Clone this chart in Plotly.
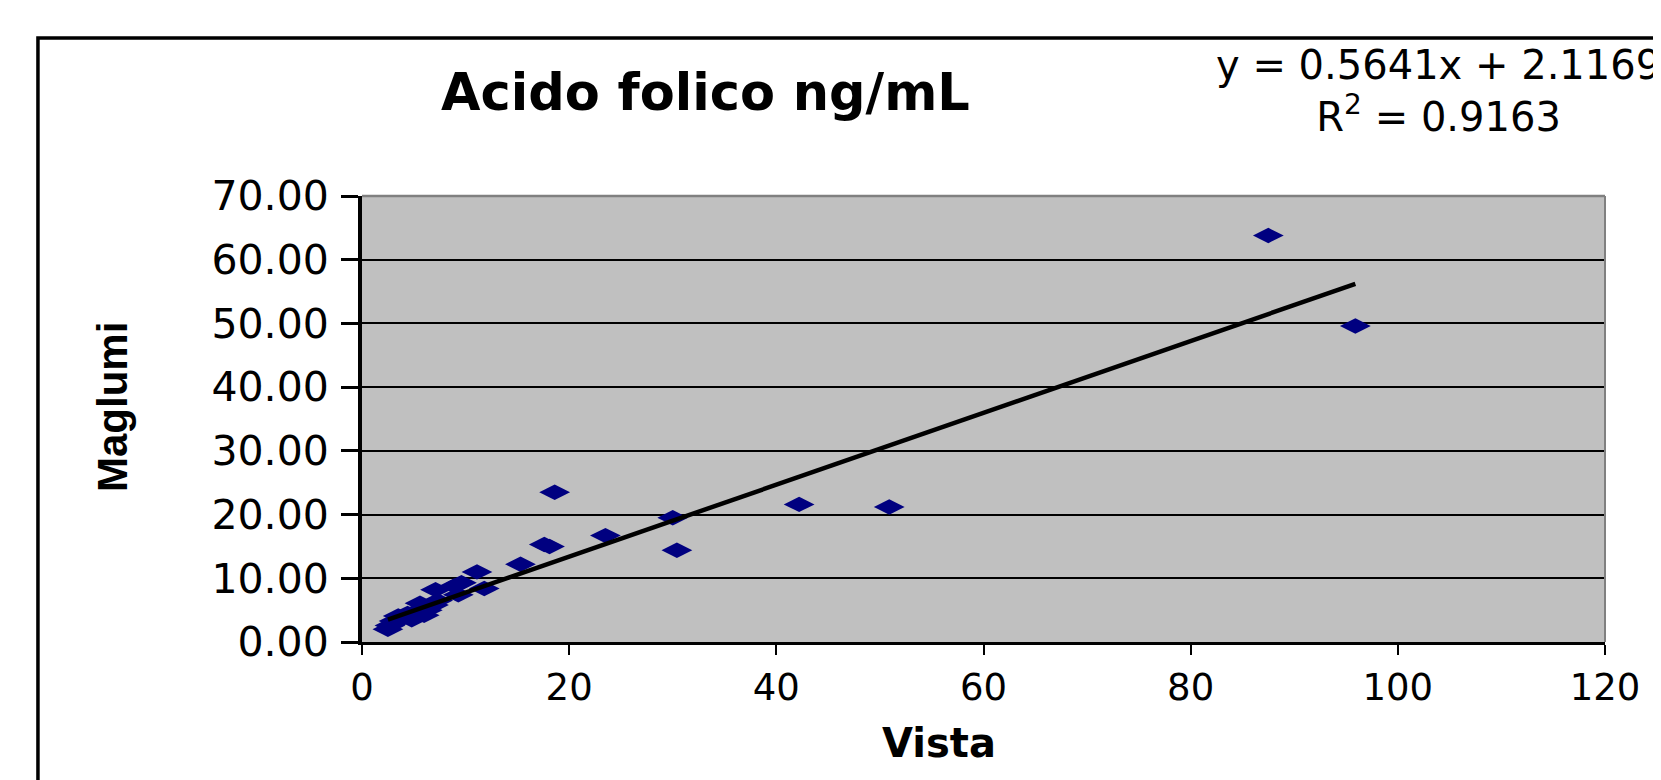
import plotly.graph_objects as go

# Data
vista = [2.5, 2.7, 3.1, 3.5, 3.9, 4.4, 4.8, 5.2, 5.6, 6.0, 6.3, 6.9, 7.1, 7.3,
         8.9, 9.3, 9.6, 11.1, 11.8, 15.3, 17.6, 18.1, 18.6, 23.5, 30.0, 30.4,
         42.2, 50.9, 87.5, 95.9]
maglumi = [2.0, 2.6, 3.3, 4.1, 3.7, 4.5, 3.5, 4.8, 6.1, 4.2, 5.0, 5.8, 8.2, 6.5,
           8.8, 7.4, 9.3, 11.0, 8.4, 12.2, 15.3, 15.0, 23.5, 16.7, 19.5, 14.4,
           21.6, 21.2, 63.8, 49.6]

slope = 0.5641
intercept = 2.1169
r2 = 0.9163

title_text = "Acido folico ng/mL"
x_title = "Vista"
y_title = "Maglumi"
x_ticks = [0, 20, 40, 60, 80, 100, 120]
y_ticks = [0, 10, 20, 30, 40, 50, 60, 70]

x_lo, x_hi = min(vista), max(vista)
trend_x = [x_lo, x_hi]
trend_y = [slope * v + intercept for v in trend_x]

fig = go.Figure()
fig.add_trace(go.Scatter(
    x=vista, y=maglumi, mode="markers",
    marker=dict(symbol="diamond-wide", size=22, color="#000080",
                line=dict(width=0)),
    showlegend=False, cliponaxis=False))
fig.add_trace(go.Scatter(
    x=trend_x, y=trend_y, mode="lines",
    line=dict(color="black", width=4.5),
    showlegend=False))

FONT = "DejaVu Sans, Verdana, sans-serif"

fig.update_layout(
    width=1661, height=780,
    margin=dict(l=354, r=64, t=188, b=146),
    paper_bgcolor="white",
    plot_bgcolor="#C0C0C0",
    showlegend=False,
    xaxis=dict(
        range=[0, 120], tickvals=x_ticks, ticktext=[str(v) for v in x_ticks],
        showgrid=False, zeroline=False,
        showline=True, linecolor="black", linewidth=2.5,
        ticks="outside", ticklen=10, tickwidth=2, tickcolor="black",
        tickfont=dict(family=FONT, size=37, color="black"),
        ticklabelstandoff=1,
    ),
    yaxis=dict(
        range=[0, 70], tickvals=y_ticks, ticktext=[f"{v:.2f}" for v in y_ticks],
        showgrid=True, gridcolor="black", gridwidth=2,
        zeroline=False,
        showline=True, linecolor="black", linewidth=4,
        ticks="outside", ticklen=17, tickwidth=2.5, tickcolor="black",
        tickfont=dict(family=FONT, size=41, color="black"),
        ticklabelstandoff=4,
    ),
    shapes=[
        # gray top and right plot-area border
        dict(type="line", xref="paper", yref="paper", x0=0, x1=1, y0=1, y1=1,
             line=dict(color="#808080", width=2.5), layer="above"),
        dict(type="line", xref="paper", yref="paper", x0=1, x1=1, y0=0, y1=1,
             line=dict(color="#808080", width=2), layer="above"),
        # outer chart-area frame (runs off the right and bottom edges)
        dict(type="rect", xref="paper", yref="paper",
             x0=-0.2607, x1=1.2, y0=-0.5, y1=1.354,
             line=dict(color="black", width=3.5), fillcolor="rgba(0,0,0,0)",
             layer="below"),
    ],
    annotations=[
        dict(text=f"<b>{title_text}</b>", xref="paper", yref="paper",
             x=0.2767, y=1.232, xanchor="center", yanchor="middle",
             showarrow=False, font=dict(family=FONT, size=51, color="black")),
        dict(text=f"<b>{x_title}</b>", xref="paper", yref="paper",
             x=0.464, y=-0.2265, xanchor="center", yanchor="middle",
             showarrow=False, font=dict(family=FONT, size=40, color="black")),
        dict(text=f"<b>{y_title}</b>", xref="paper", yref="paper",
             x=-0.2003, y=0.527, xanchor="center", yanchor="middle",
             textangle=-90, showarrow=False,
             font=dict(family="Liberation Sans, Arial, sans-serif", size=42,
                       color="black")),
        dict(text=(f"y = {slope:.4f}x + {intercept:.4f}<br>"
                   f"R<sup>2</sup> = {r2:.4f}"),
             xref="paper", yref="paper", x=0.866, y=1.235,
             xanchor="center", yanchor="middle", align="center",
             showarrow=False, font=dict(family=FONT, size=40, color="black")),
    ],
)

fig.write_html("out.html")
